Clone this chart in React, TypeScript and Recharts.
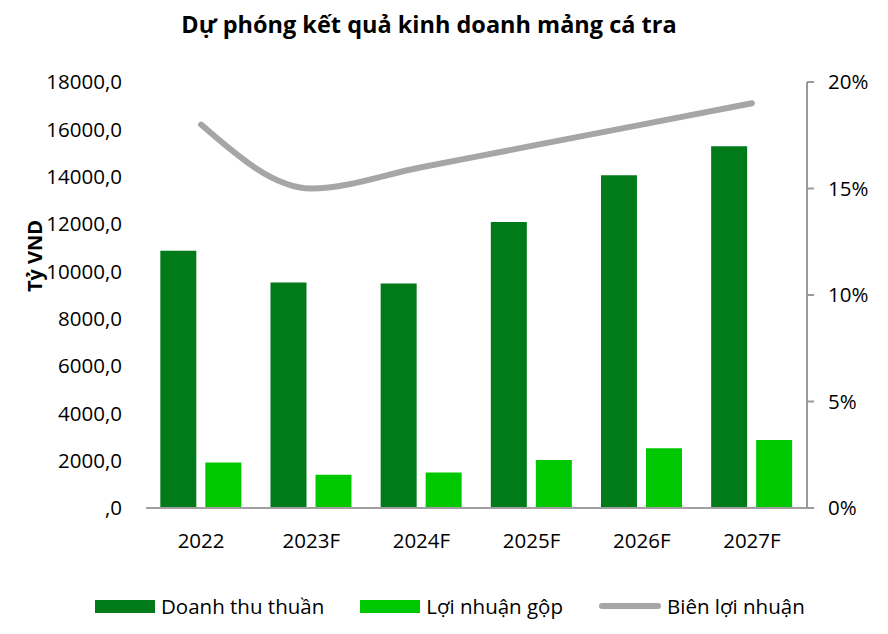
import React from 'react';
import { ComposedChart, Bar, Line, XAxis, YAxis, Legend } from 'recharts';

const categories = ['2022', '2023F', '2024F', '2025F', '2026F', '2027F'];
const revenue = [10870, 9530, 9490, 12080, 14060, 15280];
const grossProfit = [1920, 1410, 1500, 2030, 2520, 2870];
const profitMargin = [0.18, 0.15, 0.16, 0.17, 0.18, 0.19];
const leftTicks = [0, 2000, 4000, 6000, 8000, 10000, 12000, 14000, 16000, 18000];
const rightTicks = [0, 0.05, 0.1, 0.15, 0.2];

const seriesNames = {
  revenue: 'Doanh thu thuần',
  gross: 'Lợi nhuận gộp',
  margin: 'Biên lợi nhuận',
};

const COLORS = {
  revenue: '#017A1A',
  gross: '#00C800',
  margin: '#A6A6A6',
};

const FONT = "'Open Sans', 'Noto Sans', sans-serif";
const TICK_FONT = 20.5;

const data = categories.map((c, i) => ({
  year: c,
  revenue: revenue[i],
  gross: grossProfit[i],
  margin: profitMargin[i],
}));

const fmtLeft = (v: number) => (v === 0 ? ',0' : `${v},0`);
const fmtRight = (v: number) => `${Math.round(v * 100)}%`;

const LegendContent = () => {
  const items = [
    { key: 'revenue', type: 'rect' },
    { key: 'gross', type: 'rect' },
    { key: 'margin', type: 'line' },
  ] as const;
  return (
    <div
      style={{
        display: 'flex',
        alignItems: 'center',
        paddingLeft: 95,
        gap: 36,
        fontFamily: FONT,
        fontSize: 20.5,
        color: '#000',
        height: 30,
      }}
    >
      {items.map((it) => (
        <div key={it.key} style={{ display: 'flex', alignItems: 'center' }}>
          {it.type === 'rect' ? (
            <div style={{ width: 60, height: 13, background: (COLORS as any)[it.key] }} />
          ) : (
            <div
              style={{
                width: 62,
                height: 6,
                borderRadius: 3,
                background: COLORS.margin,
              }}
            />
          )}
          <span style={{ marginLeft: 6, whiteSpace: 'nowrap' }}>{(seriesNames as any)[it.key]}</span>
        </div>
      ))}
    </div>
  );
};

export default function App() {
  return (
    <div style={{ position: 'absolute', left: 0, top: 0, width: 888, height: 634, background: '#fff' }}>
      <div
        style={{
          position: 'absolute',
          left: 0,
          top: 8,
          width: 858,
          textAlign: 'center',
          fontFamily: FONT,
          fontWeight: 700,
          fontSize: 23.5,
          lineHeight: '32px',
          color: '#000',
        }}
      >
        Dự phóng kết quả kinh doanh mảng cá tra
      </div>
      <ComposedChart
        width={888}
        height={634}
        data={data}
        margin={{ top: 82, right: 0, bottom: 86, left: 0 }}
        barCategoryGap="13%"
        barGap={9}
      >
        <XAxis
          dataKey="year"
          height={40}
          axisLine={{ stroke: '#A0A0A0', strokeWidth: 2 }}
          tickLine={false}
          tickSize={0}
          tickMargin={25}
          tick={{ fontSize: TICK_FONT, fill: '#000', fontFamily: FONT }}
        />
        <YAxis
          yAxisId="left"
          orientation="left"
          width={146}
          domain={[0, 18000]}
          ticks={leftTicks}
          interval={0}
          tickFormatter={fmtLeft}
          axisLine={false}
          tickLine={false}
          tickSize={0}
          tickMargin={24}
          tick={{ fontSize: TICK_FONT, fill: '#000', fontFamily: FONT }}
          label={{
            content: () => (
              <text
                x={34}
                y={256}
                transform="rotate(-90 34 256)"
                textAnchor="middle"
                dominantBaseline="central"
                fontFamily={FONT}
                fontWeight={700}
                fontSize={20}
                fill="#000"
              >
                Tỷ VND
              </text>
            ),
          }}
        />
        <YAxis
          yAxisId="right"
          orientation="right"
          width={81}
          domain={[0, 0.2]}
          ticks={rightTicks}
          interval={0}
          tickFormatter={fmtRight}
          axisLine={{ stroke: '#9A9A9A', strokeWidth: 2 }}
          tickLine={{ stroke: '#9A9A9A', strokeWidth: 2 }}
          tickSize={7}
          tickMargin={14}
          tick={{ fontSize: TICK_FONT, fill: '#000', fontFamily: FONT }}
        />
        <Bar yAxisId="left" dataKey="revenue" name={seriesNames.revenue} fill={COLORS.revenue} isAnimationActive={false} />
        <Bar yAxisId="left" dataKey="gross" name={seriesNames.gross} fill={COLORS.gross} isAnimationActive={false} />
        <Line
          yAxisId="right"
          type="monotone"
          dataKey="margin"
          name={seriesNames.margin}
          stroke={COLORS.margin}
          strokeWidth={6}
          strokeLinecap="round"
          dot={false}
          activeDot={false}
          isAnimationActive={false}
        />
        <Legend
          layout="horizontal"
          verticalAlign="middle"
          align="center"
          wrapperStyle={{ top: 591, left: 0, width: 888 }}
          content={<LegendContent />}
        />
      </ComposedChart>
    </div>
  );
}
